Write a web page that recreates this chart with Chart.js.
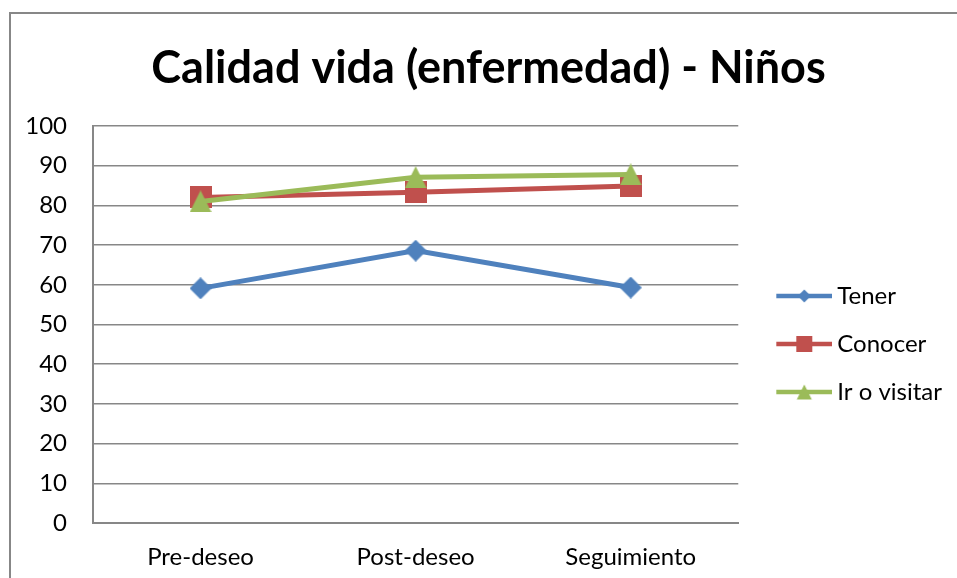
<!DOCTYPE html>
<html lang="es">
<head>
<meta charset="utf-8">
<title>Calidad vida (enfermedad) - Niños</title>
<script src="https://cdn.jsdelivr.net/npm/chart.js@4.4.1/dist/chart.umd.min.js"></script>
<style>
    html, body { margin: 0; padding: 0; background: #fff; overflow: hidden; }
    #marco {
        position: absolute;
        left: 9px;
        top: 12px;
        width: 1000px;
        height: 700px;
        border-left: 2px solid #878787;
        border-top: 2px solid #878787;
    }
    #caja {
        position: absolute;
        left: 0;
        top: 0;
        width: 956px;
        height: 564px;
    }
</style>
</head>
<body>
<div id="marco">
    <div id="caja"><canvas id="grafico"></canvas></div>
</div>
<script>
// Datos del gráfico
const momentos = ['Pre-deseo', 'Post-deseo', 'Seguimiento'];
const series = ['Tener', 'Conocer', 'Ir o visitar'];
const tener = [59.1, 68.6, 59.3];
const conocer = [82.0, 83.3, 84.9];
const irVisitar = [81.0, 87.1, 87.8];
const ticksY = [0, 10, 20, 30, 40, 50, 60, 70, 80, 90, 100];

const colores = ['#4F81BD', '#C0504D', '#9BBB59'];
const formas = ['rombo', 'cuadrado', 'triangulo'];

// Dibuja un marcador (rombo, cuadrado o triángulo) en un lienzo aparte
function dibujarForma(ctx, forma, cx, cy, tam, color) {
    const m = tam / 2;
    ctx.fillStyle = color;
    ctx.beginPath();
    if (forma === 'rombo') {
        ctx.moveTo(cx, cy - m);
        ctx.lineTo(cx + m, cy);
        ctx.lineTo(cx, cy + m);
        ctx.lineTo(cx - m, cy);
    } else if (forma === 'cuadrado') {
        ctx.rect(cx - m, cy - m, tam, tam);
    } else {
        ctx.moveTo(cx, cy - m);
        ctx.lineTo(cx + m, cy + m);
        ctx.lineTo(cx - m, cy + m);
    }
    ctx.closePath();
    ctx.fill();
}

function crearMarcador(forma, color, tam) {
    const c = document.createElement('canvas');
    c.width = tam;
    c.height = tam;
    dibujarForma(c.getContext('2d'), forma, tam / 2, tam / 2, tam, color);
    return c;
}

// Icono de la leyenda: línea con el marcador en medio.
// El lienzo lleva un margen transparente a la izquierda para separar
// el icono del área del gráfico.
function crearIconoLeyenda(forma, color, tam) {
    const c = document.createElement('canvas');
    c.width = 77;
    c.height = 20;
    const ctx = c.getContext('2d');
    ctx.strokeStyle = color;
    ctx.lineWidth = 4.5;
    ctx.beginPath();
    ctx.moveTo(21, 10);
    ctx.lineTo(77, 10);
    ctx.stroke();
    dibujarForma(ctx, forma, 49, 10, tam, color);
    return c;
}

const tamMarcador = [22, 22, 22];
const tamLeyenda = [13, 16, 15];
const valores = [tener, conocer, irVisitar];

const datasets = series.map((nombre, i) => ({
    label: nombre,
    data: valores[i],
    borderColor: colores[i],
    backgroundColor: colores[i],
    borderWidth: 5,
    pointStyle: crearMarcador(formas[i], colores[i], tamMarcador[i]),
    pointRadius: 11,
    pointHoverRadius: 11,
    tension: 0,
    order: 2 - i
}));

// El título va algo desplazado a la derecha respecto al lienzo
const moverTitulo = {
    id: 'moverTitulo',
    afterLayout(chart) {
        const t = chart.titleBlock;
        if (t) {
            t.left += 7;
            t.right += 7;
        }
    }
};

const ctx = document.getElementById('grafico').getContext('2d');
Chart.defaults.font.family = 'Lato, "Open Sans", sans-serif';
Chart.defaults.color = '#000';

new Chart(ctx, {
    type: 'line',
    data: {
        labels: momentos,
        datasets: datasets
    },
    plugins: [moverTitulo],
    options: {
        responsive: true,
        maintainAspectRatio: false,
        animation: false,
        layout: {
            padding: { left: 0, right: 15, top: 0, bottom: 0 }
        },
        plugins: {
            title: {
                display: true,
                text: 'Calidad vida (enfermedad) - Niños',
                color: '#000',
                font: { size: 45, weight: 'bold' },
                padding: { top: 27, bottom: 31 }
            },
            legend: {
                position: 'right',
                title: {
                    display: true,
                    text: '',
                    font: { size: 10 },
                    padding: { top: 84, bottom: 0 }
                },
                labels: {
                    usePointStyle: true,
                    pointStyleWidth: 63,
                    padding: 24,
                    font: { size: 24 },
                    color: '#000',
                    generateLabels: function() {
                        return series.map((nombre, i) => ({
                            text: nombre,
                            pointStyle: crearIconoLeyenda(formas[i], colores[i], tamLeyenda[i]),
                            fillStyle: colores[i],
                            strokeStyle: colores[i],
                            lineWidth: 0,
                            hidden: false,
                            datasetIndex: i
                        }));
                    }
                }
            },
            tooltip: { enabled: false }
        },
        scales: {
            x: {
                offset: true,
                grid: { display: false },
                border: { display: true, color: '#878787', width: 2 },
                ticks: { padding: 12, font: { size: 24 }, color: '#000' },
                afterFit: function(scale) { scale.height = 55; }
            },
            y: {
                min: 0,
                max: 100,
                afterBuildTicks: function(scale) {
                    scale.ticks = ticksY.map(v => ({ value: v }));
                },
                grid: { color: '#878787', lineWidth: 1.5, drawTicks: false },
                border: { display: true, color: '#878787', width: 2 },
                ticks: { padding: 26, font: { size: 24 }, color: '#000' },
                afterFit: function(scale) { scale.width = 82; }
            }
        }
    }
});
</script>
</body>
</html>
